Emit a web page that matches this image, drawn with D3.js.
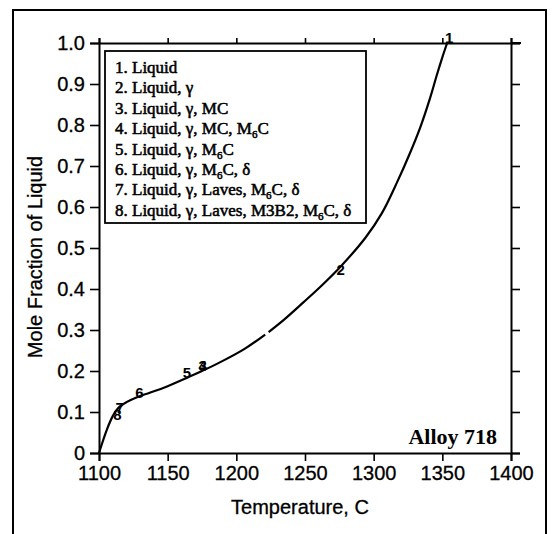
<!DOCTYPE html>
<html>
<head>
<meta charset="utf-8">
<script src="https://cdn.jsdelivr.net/npm/d3@7"></script>
<style>
  html, body { margin: 0; padding: 0; background: #fff; }
  svg { display: block; }
</style>
</head>
<body>
<svg id="chart" width="554" height="534"></svg>
<script>
// ---- data ----
const temperature = [1100, 1105.6, 1110, 1114, 1120, 1129, 1137, 1150, 1165, 1175, 1188, 1206, 1221, 1222.2, 1223.5, 1235, 1249, 1262, 1276, 1294, 1306, 1317, 1326, 1334, 1341, 1346, 1350, 1353.5];
const liquidFraction = [0, 0.056, 0.09, 0.11, 0.124, 0.138, 0.147, 0.163, 0.185, 0.2, 0.221, 0.254, 0.289, null, 0.295, 0.326, 0.368, 0.408, 0.455, 0.525, 0.585, 0.66, 0.728, 0.795, 0.865, 0.922, 0.965, 1.0];

const phaseLabels = ["8", "7", "6", "5", "4", "3", "2", "1"];
const phaseLabelT = [1113.5, 1115, 1129.5, 1164, 1175.5, 1175.5, 1276, 1355];
const phaseLabelF = [0.094, 0.11, 0.147, 0.196, 0.212, 0.212, 0.447, 1.012];

const legendItems = [
  "1. Liquid",
  "2. Liquid, γ",
  "3. Liquid, γ, MC",
  "4. Liquid, γ, MC, M_6C",
  "5. Liquid, γ, M_6C",
  "6. Liquid, γ, M_6C, δ",
  "7. Liquid, γ, Laves, M_6C, δ",
  "8. Liquid, γ, Laves, M3B2, M_6C, δ"
];

const xTicks = [1100, 1150, 1200, 1250, 1300, 1350, 1400];
const yTicks = [0, 0.1, 0.2, 0.3, 0.4, 0.5, 0.6, 0.7, 0.8, 0.9, 1.0];
const yTickLabels = ["0", "0.1", "0.2", "0.3", "0.4", "0.5", "0.6", "0.7", "0.8", "0.9", "1.0"];

const xTitle = "Temperature, C";
const yTitle = "Mole Fraction of Liquid";
const alloyLabel = "Alloy 718";

// ---- layout ----
const svg = d3.select("#chart");
const pL = 99, pR = 511, pT = 43, pB = 453;
const sans = "'Liberation Sans', Arial, Helvetica, sans-serif";
const serif = "'Liberation Serif', 'Times New Roman', Times, serif";

svg.append("rect").attr("width", 554).attr("height", 534).attr("fill", "#fff");

// outer frame (left, top, right)
svg.append("path")
  .attr("d", "M13,534 L13,10 L546,10 L546,534")
  .attr("fill", "none").attr("stroke", "#000").attr("stroke-width", 2);

const x = d3.scaleLinear().domain([1100, 1400]).range([pL, pR]);
const y = d3.scaleLinear().domain([0, 1]).range([pB, pT]);

// axes
const xAxisB = d3.axisBottom(x).tickValues(xTicks).tickSize(8).tickPadding(5).tickFormat(d3.format("d"));
const xAxisT = d3.axisTop(x).tickValues(xTicks).tickSize(5).tickFormat("");
const yAxisL = d3.axisLeft(y).tickValues(yTicks).tickSize(9).tickPadding(5).tickFormat((d, i) => yTickLabels[i]);
const yAxisR = d3.axisRight(y).tickValues(yTicks).tickSize(9).tickFormat("");

function styleAxis(g) {
  g.select(".domain").attr("stroke", "#000").attr("stroke-width", 2);
  g.selectAll(".tick line").attr("stroke", "#000").attr("stroke-width", 1.6);
  g.selectAll(".tick text").attr("fill", "#000").style("font-family", sans).style("font-size", "20px")
    .attr("stroke", "#000").attr("stroke-width", 0.3);
}

svg.append("g").attr("transform", `translate(0,${pB})`).call(xAxisB).call(styleAxis);
svg.append("g").attr("transform", `translate(0,${pT})`).call(xAxisT).call(styleAxis);
svg.append("g").attr("transform", `translate(${pL},0)`).call(yAxisL).call(styleAxis);
svg.append("g").attr("transform", `translate(${pR},0)`).call(yAxisR).call(styleAxis);

// extend top line slightly past right axis
svg.append("line").attr("x1", pR).attr("x2", pR + 10).attr("y1", pT).attr("y2", pT)
  .attr("stroke", "#000").attr("stroke-width", 2);

// axis titles
svg.append("text").attr("x", 300).attr("y", 514).attr("text-anchor", "middle")
  .style("font-family", sans).style("font-size", "20px")
  .attr("stroke", "#000").attr("stroke-width", 0.3).text(xTitle);
svg.append("text").attr("transform", "translate(42,257) rotate(-90)").attr("text-anchor", "middle")
  .style("font-family", sans).style("font-size", "20px")
  .attr("stroke", "#000").attr("stroke-width", 0.3).text(yTitle);

// curve
const pts = temperature.map((t, i) => ({ t, f: liquidFraction[i] }));
const line = d3.line().defined(d => d.f !== null).x(d => x(d.t)).y(d => y(d.f)).curve(d3.curveCatmullRom.alpha(0.5));
svg.append("path").datum(pts).attr("d", line)
  .attr("fill", "none").attr("stroke", "#000").attr("stroke-width", 2.2);

// phase number labels on curve
svg.selectAll(".phase").data(phaseLabels).enter().append("text")
  .attr("class", "phase")
  .attr("x", (d, i) => x(phaseLabelT[i]))
  .attr("y", (d, i) => y(phaseLabelF[i]))
  .attr("dy", "0.35em")
  .attr("text-anchor", "middle")
  .style("font-family", sans).style("font-size", "15px").style("font-weight", "bold")
  .text(d => d);

// legend box
svg.append("rect").attr("x", 105).attr("y", 51).attr("width", 261).attr("height", 172)
  .attr("fill", "#fff").attr("stroke", "#000").attr("stroke-width", 1.8);

const legend = svg.append("g");
legendItems.forEach((s, i) => {
  const t = legend.append("text")
    .attr("x", 115).attr("y", 73 + i * 20.4)
    .style("font-family", serif).style("font-size", "17px")
    .attr("fill", "#000").attr("stroke", "#000").attr("stroke-width", 0.55);
  const parts = s.split(/(_\d)/);
  let shift = 0;
  parts.forEach(p => {
    if (p.startsWith("_")) {
      t.append("tspan").attr("dy", 4).style("font-size", "11px").text(p.slice(1));
      shift = -4;
    } else if (p.length) {
      t.append("tspan").attr("dy", shift).text(p);
      shift = 0;
    }
  });
});

// alloy label
svg.append("text").attr("x", 497).attr("y", 444).attr("text-anchor", "end")
  .style("font-family", serif).style("font-size", "22px").style("font-weight", "bold")
  .text(alloyLabel);
</script>
</body>
</html>
